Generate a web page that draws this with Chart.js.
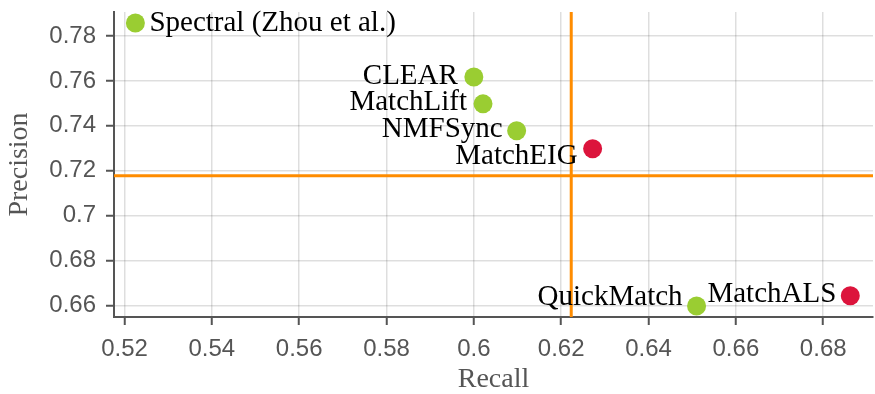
<!DOCTYPE html>
<html>
<head>
<meta charset="utf-8">
<script src="https://cdn.jsdelivr.net/npm/chart.js@4/dist/chart.umd.min.js"></script>
<style>
  html, body { margin: 0; padding: 0; background: #fff; }
  #wrap { width: 875px; height: 394px; }
</style>
</head>
<body>
<div id="wrap"><canvas id="chart" width="875" height="394"></canvas></div>
<script>
// data
var methods = ["Spectral (Zhou et al.)", "CLEAR", "MatchLift", "NMFSync", "MatchEIG", "QuickMatch", "MatchALS"];
var recall = [0.5225, 0.6000, 0.6021, 0.6098, 0.6272, 0.6510, 0.6862];
var precision = [0.7858, 0.7618, 0.7498, 0.7378, 0.7298, 0.6598, 0.6644];
var isOurs = [false, false, false, false, true, false, true];

var recallThreshold = 0.6223;
var precisionThreshold = 0.7178;

var xTickLabels = ["0.52", "0.54", "0.56", "0.58", "0.6", "0.62", "0.64", "0.66", "0.68"];
var yTickLabels = ["0.66", "0.68", "0.7", "0.72", "0.74", "0.76", "0.78"];

var xMin = 0.5176, xMax = 0.6914;
var yMin = 0.6549, yMax = 0.7907;

// label placement around each point (pixels), same order as methods
var labelPlace = [
  { align: "left", dx: 14, dy: 8 },
  { align: "right", dx: -16, dy: 7 },
  { align: "right", dx: -16, dy: 6 },
  { align: "right", dx: -14, dy: 6 },
  { align: "right", dx: -15, dy: 15 },
  { align: "right", dx: -14, dy: -1 },
  { align: "right", dx: -14, dy: 6 }
];

var GREEN = "#9acd32";
var RED = "#dc143c";
var ORANGE = "#ff8c00";
var AXIS = "#555555";
var SERIF = "'Liberation Serif', 'Times New Roman', serif";
var SANS = "'Liberation Sans', Arial, sans-serif";

var points = [];
for (let i = 0; i < methods.length; i++) {
  points.push({ x: recall[i], y: precision[i] });
}

function findLabel(list, v) {
  for (let i = 0; i < list.length; i++) {
    if (Math.abs(parseFloat(list[i]) - v) < 1e-6) return list[i];
  }
  return "";
}

const pointLabels = {
  id: "pointLabels",
  afterDatasetsDraw(chart) {
    const meta = chart.getDatasetMeta(0);
    const ctx = chart.ctx;
    ctx.save();
    ctx.font = "29px " + SERIF;
    ctx.fillStyle = "#000";
    ctx.textBaseline = "alphabetic";
    meta.data.forEach(function (el, i) {
      const p = labelPlace[i];
      ctx.textAlign = p.align;
      ctx.fillText(methods[i], el.x + p.dx, el.y + p.dy);
    });
    ctx.restore();
  }
};

const ctx = document.getElementById("chart").getContext("2d");
new Chart(ctx, {
  type: "scatter",
  data: {
    datasets: [
      {
        data: points,
        pointRadius: 9.5,
        pointHoverRadius: 9.5,
        borderWidth: 0,
        backgroundColor: isOurs.map(function (o) { return o ? RED : GREEN; }),
        order: 0
      },
      {
        data: [{ x: recallThreshold, y: yMin }, { x: recallThreshold, y: yMax }],
        showLine: true,
        pointRadius: 0,
        borderColor: ORANGE,
        borderWidth: 3,
        order: 1
      },
      {
        data: [{ x: xMin, y: precisionThreshold }, { x: xMax, y: precisionThreshold }],
        showLine: true,
        pointRadius: 0,
        borderColor: ORANGE,
        borderWidth: 3,
        order: 2
      }
    ]
  },
  options: {
    responsive: false,
    animation: false,
    devicePixelRatio: 1,
    layout: { autoPadding: false, padding: { top: 12, right: 2, bottom: 0, left: 0 } },
    plugins: {
      legend: { display: false },
      tooltip: { enabled: false }
    },
    scales: {
      x: {
        type: "linear",
        min: xMin,
        max: xMax,
        afterFit: function (s) {
          s.height = 77;
          s.paddingLeft = 0;
          s.paddingRight = 0;
        },
        ticks: {
          stepSize: 0.02,
          includeBounds: false,
          padding: 10,
          color: AXIS,
          font: { family: SANS, size: 24 },
          callback: function (v) { return findLabel(xTickLabels, v); }
        },
        grid: {
          color: "rgba(0,0,0,0.13)",
          lineWidth: 1.5,
          tickLength: 8,
          tickColor: AXIS,
          tickWidth: 2
        },
        border: { color: AXIS, width: 2 },
        title: {
          display: true,
          text: "Recall",
          color: AXIS,
          font: { family: SERIF, size: 28, lineHeight: 1 },
          padding: { top: 0, bottom: 0 }
        }
      },
      y: {
        type: "linear",
        min: yMin,
        max: yMax,
        afterFit: function (s) {
          s.width = 114;
          s.paddingTop = 0;
          s.paddingBottom = 0;
        },
        ticks: {
          stepSize: 0.02,
          includeBounds: false,
          padding: 10,
          color: AXIS,
          font: { family: SANS, size: 24 },
          callback: function (v) { return findLabel(yTickLabels, v); }
        },
        grid: {
          color: "rgba(0,0,0,0.13)",
          lineWidth: 1.5,
          tickLength: 8,
          tickColor: AXIS,
          tickWidth: 2
        },
        border: { color: AXIS, width: 2 },
        title: {
          display: true,
          text: "Precision",
          color: AXIS,
          font: { family: SERIF, size: 28, lineHeight: 1 },
          padding: { top: 6, bottom: 0 }
        }
      }
    }
  },
  plugins: [pointLabels]
});
</script>
</body>
</html>
